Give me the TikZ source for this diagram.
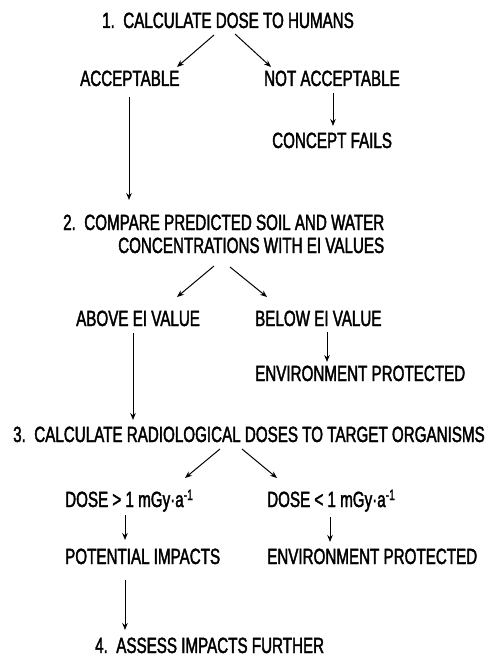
\documentclass[tikz,border=0pt]{standalone}
\usepackage{fontspec}
\setmainfont[FakeStretch=0.69,FakeBold=1.8]{Liberation Sans}
\usetikzlibrary{arrows.meta}
\newcommand{\supmin}{\raisebox{7pt}{\fontsize{15}{15}\selectfont -1}}
\tikzset{
  lbl/.style={anchor=base west, inner sep=0pt, font=\fontsize{22}{23}\selectfont},
  arr/.style={line width=1pt, -{Stealth[length=7pt,width=5.5pt]}}
}
\begin{document}
\begin{tikzpicture}[x=1pt,y=-1pt]
\useasboundingbox[fill=white] (0,0) rectangle (489,658);
\node[lbl] (n1) at (102,28) {1.\ \ CALCULATE DOSE TO HUMANS};
\node[lbl] (acc) at (80,86) {ACCEPTABLE};
\node[lbl] (nacc) at (264,86) {NOT ACCEPTABLE};
\node[lbl] (fail) at (272,148) {CONCEPT FAILS};
\node[lbl, align=left] (n2) at (63,253) {2.\ \ COMPARE PREDICTED SOIL AND WATER\\\hspace{55pt}CONCENTRATIONS WITH EI VALUES};
\node[lbl] (abv) at (76,326) {ABOVE EI VALUE};
\node[lbl] (blw) at (255,326) {BELOW EI VALUE};
\node[lbl] (env1) at (255,381) {ENVIRONMENT PROTECTED};
\node[lbl] (n3) at (13,442) {3.\ \ CALCULATE RADIOLOGICAL DOSES TO TARGET ORGANISMS};
\node[lbl] (dgt) at (65,507) {DOSE > 1 mGy·a\supmin};
\node[lbl] (dlt) at (267,507) {DOSE < 1 mGy·a\supmin};
\node[lbl] (pot) at (65,564) {POTENTIAL IMPACTS};
\node[lbl] (env2) at (267,564) {ENVIRONMENT PROTECTED};
\node[lbl] (n4) at (95,653) {4.\ \ ASSESS IMPACTS FURTHER};
% connectors
\draw[arr] ([shift={(112,7)}]n1.base west) -- ([shift={(97,-19)}]acc.base west);
\draw[arr] ([shift={(133,6)}]n1.base west) -- ([shift={(7,-19)}]nacc.base west);
\draw[arr] ([shift={(69,7)}]nacc.base west) -- ([shift={(61,-22)}]fail.base west);
\draw[arr] ([shift={(49,11)}]acc.base west) -- ([shift={(66,-53)}]n2.base west);
\draw[arr] ([shift={(151,13)}]n2.base west) -- ([shift={(101,-29)}]abv.base west);
\draw[arr] ([shift={(167,14)}]n2.base west) -- ([shift={(12,-29)}]blw.base west);
\draw[arr] ([shift={(72,6)}]blw.base west) -- ([shift={(72,-19)}]env1.base west);
\draw[arr] ([shift={(57,7)}]abv.base west) -- ([shift={(120,-22)}]n3.base west);
\draw[arr] ([shift={(207,7)}]n3.base west) -- ([shift={(120,-29)}]dgt.base west);
\draw[arr] ([shift={(229,7)}]n3.base west) -- ([shift={(10,-29)}]dlt.base west);
\draw[arr] ([shift={(60,8)}]dgt.base west) -- ([shift={(60,-24)}]pot.base west);
\draw[arr] ([shift={(63,10)}]dlt.base west) -- ([shift={(63,-22)}]env2.base west);
\draw[arr] ([shift={(60,16)}]pot.base west) -- ([shift={(30,-23)}]n4.base west);
\end{tikzpicture}
\end{document}
